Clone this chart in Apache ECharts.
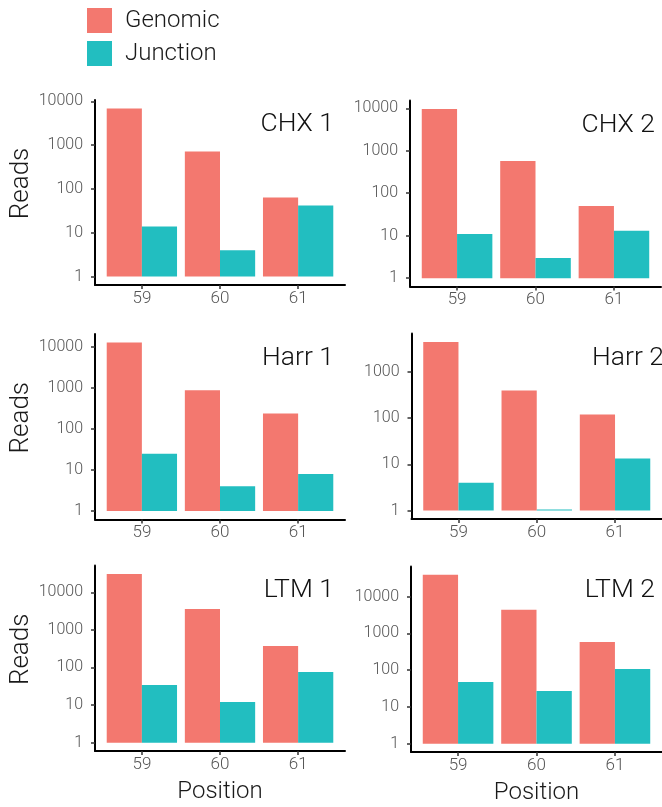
<!DOCTYPE html>
<html>
<head>
<meta charset="utf-8">
<script src="https://cdn.jsdelivr.net/npm/echarts@6/dist/echarts.min.js"></script>
<style>
  html, body { margin: 0; padding: 0; background: #fff; }
  #chart { width: 662px; height: 807px; }
</style>
</head>
<body>
<div id="chart"></div>
<script>
// x positions (categories)
var positions = [59, 60, 61];
var panelNames = ['CHX 1', 'CHX 2', 'Harr 1', 'Harr 2', 'LTM 1', 'LTM 2'];
var seriesNames = ['Genomic', 'Junction'];

// reads per position
var chx1Genomic = [6900, 720, 64];
var chx1Junction = [14, 4, 42];
var chx2Genomic = [9600, 575, 50];
var chx2Junction = [11, 3, 13];
var harr1Genomic = [12900, 875, 238];
var harr1Junction = [25, 4, 8];
var harr2Genomic = [4480, 396, 120];
var harr2Junction = [4, 1, 13.4];
var ltm1Genomic = [30600, 3600, 373];
var ltm1Junction = [34, 12, 76];
var ltm2Genomic = [39500, 4400, 590];
var ltm2Junction = [48, 27, 108];

// y tick values (log10 of 1, 10, 100, 1000, 10000)
var yTicks = [0, 1, 2, 3, 4];

var genomicByPanel = [chx1Genomic, chx2Genomic, harr1Genomic, harr2Genomic, ltm1Genomic, ltm2Genomic];
var junctionByPanel = [chx1Junction, chx2Junction, harr1Junction, harr2Junction, ltm1Junction, ltm2Junction];

var FONT = 'Roboto';
var colors = ['#F3786F', '#22BEC0'];

// panel boxes in pixels
var boxes = [
  { left: 95, top: 100, width: 250, height: 185 },
  { left: 410, top: 100.6, width: 251, height: 186 },
  { left: 95, top: 334, width: 250, height: 185.5 },
  { left: 411.5, top: 333.5, width: 258, height: 185.5 },
  { left: 95, top: 565.6, width: 250, height: 185.5 },
  { left: 411, top: 566.4, width: 251, height: 185.7 }
];
var titleRight = [334, 655, 334, 664, 334, 655];
var titleMid = [124.5, 125, 358, 358.3, 590, 590.3];

var chart = echarts.init(document.getElementById('chart'), null, { renderer: 'canvas' });

var grids = [], xAxes = [], yAxes = [], series = [], titles = [];

boxes.forEach(function (b, i) {
  var g = genomicByPanel[i], j = junctionByPanel[i];
  var L = Math.log10(Math.max.apply(null, g.concat(j)));
  var yMin = -0.05 * L, yMax = 1.05 * L;
  var ticks = yTicks.filter(function (t) { return t <= yMax; });
  var isLeft = i % 2 === 0;
  var isBottom = i >= 4;

  grids.push({ left: b.left, top: b.top, width: b.width, height: b.height, containLabel: false });

  xAxes.push({
    type: 'value', gridIndex: i, min: 58.4, max: 61.6,
    name: isBottom ? 'Position' : '', nameLocation: 'middle', nameGap: 29,
    nameTextStyle: { fontFamily: FONT, fontWeight: 300, fontSize: 24, color: '#1a1a1a' },
    axisLine: { onZero: false, lineStyle: { color: '#000', width: 2 } },
    axisTick: { customValues: positions, length: 4, lineStyle: { color: '#333', width: 1.5 } },
    axisLabel: { customValues: positions, margin: 5, fontFamily: FONT, fontWeight: 300, fontSize: 17, color: '#555' },
    splitLine: { show: false }
  });

  yAxes.push({
    type: 'value', gridIndex: i, min: yMin, max: yMax,
    name: isLeft ? 'Reads' : '', nameLocation: 'middle', nameRotate: 90, nameGap: 59,
    nameTextStyle: { fontFamily: FONT, fontWeight: 300, fontSize: 26, color: '#1a1a1a', padding: [0, 0, 0, 18] },
    axisLine: { onZero: false, lineStyle: { color: '#000', width: 2 } },
    axisTick: { customValues: ticks, length: 4, lineStyle: { color: '#333', width: 1.5 } },
    axisLabel: {
      customValues: ticks, margin: 12, fontFamily: FONT, fontWeight: 300, fontSize: 16, color: '#555',
      formatter: function (v) { return String(Math.round(Math.pow(10, v))); }
    },
    splitLine: { show: false }
  });

  [g, j].forEach(function (vals, k) {
    series.push({
      type: 'bar', name: seriesNames[k], xAxisIndex: i, yAxisIndex: i,
      barWidth: '45%', barGap: '0%', barMinHeight: 1,
      itemStyle: { color: colors[k] },
      silent: true,
      data: positions.map(function (p, n) { return [p, Math.log10(vals[n])]; })
    });
  });

  titles.push({
    text: panelNames[i], right: 662 - titleRight[i], top: titleMid[i] - 13, padding: 0,
    textStyle: { fontFamily: FONT, fontWeight: 300, fontSize: 26.5, lineHeight: 26, color: '#111' }
  });
});

chart.setOption({
  animation: false,
  title: titles,
  legend: {
    data: seriesNames, orient: 'vertical', left: 87, top: 8, padding: 0,
    itemWidth: 25, itemHeight: 25, itemGap: 8, icon: 'rect', selectedMode: false,
    textStyle: { fontFamily: FONT, fontWeight: 300, fontSize: 24, color: '#1a1a1a', padding: [0, 0, 0, 8] }
  },
  grid: grids,
  xAxis: xAxes,
  yAxis: yAxes,
  series: series
});
</script>
</body>
</html>
